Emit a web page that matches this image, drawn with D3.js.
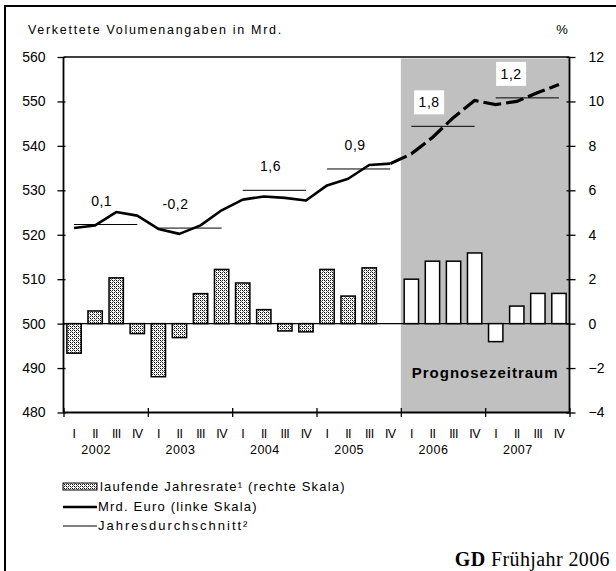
<!DOCTYPE html>
<html>
<head>
<meta charset="utf-8">
<script src="https://cdn.jsdelivr.net/npm/d3@7"></script>
<style>
  body { margin: 0; background: #fff; }
  text { font-family: "Liberation Sans", Arial, sans-serif; }
</style>
</head>
<body>
<svg width="616" height="571"></svg>
<script>
// data
var years = ["2002", "2003", "2004", "2005", "2006", "2007"];
var quarters = ["I", "II", "III", "IV"];
// laufende Jahresrate in % (right scale), null = no bar
var rate = [-1.33, 0.57, 2.06, -0.45,  -2.39, -0.63, 1.35, 2.44,
            1.83, 0.63, -0.33, -0.37,   2.44, 1.24, 2.51, null,
            2.0, 2.81, 2.81, 3.18,      -0.81, 0.79, 1.36, 1.36];
// Mrd. Euro (left scale)
var mrd = [521.5, 522.1, 525.1, 524.3,  521.3, 520.2, 522.1, 525.5,
           527.9, 528.6, 528.3, 527.7,  531.1, 532.6, 535.7, 536.0,
           538.2, 541.9, 546.4, 550.2,  549.3, 550.0, 552.0, 553.8];
// Jahresdurchschnitt (left scale) and its growth labels
var avg = [522.3, 521.5, 530.0, 534.8, 544.4, 550.8];
var avgLabel = ["0,1", "-0,2", "1,6", "0,9", "1,8", "1,2"];
var avgLabelQ = [1.81, 5.31, 9.82, 13.83, 17.34, 21.23]; // label centre in quarter units
var forecastFrom = 16; // first forecast quarter (2006 I)
var leftTicks = [480, 490, 500, 510, 520, 530, 540, 550, 560];
var rightTicks = [-4, -2, 0, 2, 4, 6, 8, 10, 12];

var svg = d3.select("svg");
var pLeft = 63.5, pRight = 569.5, pTop = 57, pBottom = 412.5;

var qIdx = d3.range(rate.length);
var xBand = d3.scaleBand().domain(qIdx).range([pLeft, pRight]).paddingInner(0.32).paddingOuter(0.16);
var xq = d3.scaleLinear().domain([0, 24]).range([pLeft, pRight]);
var yL = d3.scaleLinear().domain([480, 560]).range([pBottom, pTop]);
var yR = d3.scaleLinear().domain([-4, 12]).range([pBottom, pTop]);

// dotted pattern for the historic bars
var defs = svg.append("defs");
var pat = defs.append("pattern").attr("id", "dots")
  .attr("patternUnits", "userSpaceOnUse").attr("width", 4).attr("height", 4);
pat.append("rect").attr("width", 4).attr("height", 4).attr("fill", "#fff");
[[0, 0, "#000"], [2, 0, "#222"], [0, 2, "#222"], [2, 2, "#000"], [1, 1, "#777"], [3, 3, "#777"]]
  .forEach(function (p) {
    pat.append("rect").attr("x", p[0]).attr("y", p[1]).attr("width", 1).attr("height", 1).attr("fill", p[2]);
  });

// outer frame
svg.append("rect").attr("x", 5).attr("y", 6).attr("width", 640).attr("height", 600)
  .attr("fill", "none").attr("stroke", "#000").attr("stroke-width", 2);

// forecast shading
svg.append("rect")
  .attr("x", xq(forecastFrom)).attr("y", pTop + 1.5)
  .attr("width", xq(24) - xq(forecastFrom)).attr("height", pBottom - pTop - 1.5)
  .attr("fill", "#c0c0c0");

// titles
svg.append("text").attr("x", 28).attr("y", 34).style("font-size", "12.5px")
  .style("letter-spacing", "1.7px").text("Verkettete Volumenangaben in Mrd.");
svg.append("text").attr("x", 562).attr("y", 34).attr("text-anchor", "middle")
  .style("font-size", "13px").text("%");

// zero line of right scale
svg.append("line").attr("x1", pLeft).attr("x2", pRight).attr("y1", yR(0)).attr("y2", yR(0))
  .attr("stroke", "#000").attr("stroke-width", 1.2);

// bars
svg.append("g").selectAll("rect")
  .data(qIdx.filter(function (i) { return rate[i] !== null; }))
  .enter().append("rect")
  .attr("x", function (i) { return xBand(i); })
  .attr("width", xBand.bandwidth())
  .attr("y", function (i) { return yR(Math.max(0, rate[i])); })
  .attr("height", function (i) { return Math.abs(yR(rate[i]) - yR(0)); })
  .attr("fill", function (i) { return i >= forecastFrom ? "#fff" : "url(#dots)"; })
  .attr("stroke", "#000").attr("stroke-width", 1.5);

svg.append("text").attr("x", xq(20)).attr("y", yR(-2) + 10).attr("text-anchor", "middle")
  .style("font-size", "15px").style("font-weight", "bold").style("letter-spacing", "1px")
  .text("Prognosezeitraum");

// annual averages
var avgG = svg.append("g");
avg.forEach(function (v, k) {
  avgG.append("line")
    .attr("x1", xq(k * 4 + 0.5)).attr("x2", xq(k * 4 + 3.5))
    .attr("y1", yL(v)).attr("y2", yL(v))
    .attr("stroke", "#000").attr("stroke-width", 1);
  var boxed = k * 4 >= forecastFrom;
  var ly = yL(v) - 24;
  if (boxed) {
    avgG.append("rect").attr("x", xq(avgLabelQ[k]) - 15).attr("y", ly - 12)
      .attr("width", 30).attr("height", 24).attr("fill", "#fff");
  }
  avgG.append("text").attr("x", xq(avgLabelQ[k])).attr("y", ly + 5)
    .attr("text-anchor", "middle").style("font-size", "14px").style("letter-spacing", "0.5px")
    .text(avgLabel[k]);
});

// Mrd. Euro line
var line = d3.line()
  .x(function (i) { return xBand(i) + xBand.bandwidth() / 2; })
  .y(function (i) { return yL(mrd[i]); });

svg.append("path").datum(qIdx.slice(0, forecastFrom))
  .attr("d", line).attr("fill", "none").attr("stroke", "#000")
  .attr("stroke-width", 2.6).attr("stroke-linejoin", "round");
svg.append("path").datum(qIdx.slice(forecastFrom - 1))
  .attr("d", line).attr("fill", "none").attr("stroke", "#000")
  .attr("stroke-width", 3.2).attr("stroke-dasharray", "18,5");

// top border of plot
svg.append("line").attr("x1", pLeft).attr("x2", pRight).attr("y1", pTop).attr("y2", pTop)
  .attr("stroke", "#000").attr("stroke-width", 1.5);

// axes
var gl = svg.append("g").attr("transform", "translate(" + pLeft + ",0)")
  .call(d3.axisLeft(yL).tickValues(leftTicks).tickSize(6).tickPadding(12));
gl.selectAll(".tick line").attr("x1", 2);
var gr = svg.append("g").attr("transform", "translate(" + pRight + ",0)")
  .call(d3.axisRight(yR).tickValues(rightTicks).tickSize(6).tickPadding(13));
gr.selectAll(".tick line").attr("x1", -3);
var gb = svg.append("g").attr("transform", "translate(0," + pBottom + ")")
  .call(d3.axisBottom(xq).tickValues([0, 4, 8, 12, 16, 20, 24]).tickSize(4.5).tickFormat(""));
gb.selectAll(".tick line").attr("y1", -4.5);

[gl, gr, gb].forEach(function (g) {
  g.select(".domain").attr("stroke", "#000").attr("stroke-width", 1.8);
  g.selectAll(".tick line").attr("stroke", "#000").attr("stroke-width", 1.3);
  g.selectAll(".tick text").style("font-size", "14px").attr("fill", "#000")
    .style("font-family", "'Liberation Sans', Arial, sans-serif");
});
gl.select(".domain").attr("d", "M0," + pTop + "V" + pBottom);
gr.select(".domain").attr("d", "M0," + pTop + "V" + pBottom);
gb.select(".domain").attr("d", "M" + pLeft + ",0H" + pRight);

// quarter and year labels
svg.append("g").selectAll("text").data(qIdx).enter().append("text")
  .attr("x", function (i) { return xBand(i) + xBand.bandwidth() / 2; })
  .attr("y", 438).attr("text-anchor", "middle").style("font-size", "12.5px")
  .style("letter-spacing", "-0.6px")
  .text(function (i) { return quarters[i % 4]; });
svg.append("g").selectAll("text").data(years).enter().append("text")
  .attr("x", function (d, k) { return xq(k * 4 + 1.55); })
  .attr("y", 454).attr("text-anchor", "middle").style("font-size", "12.5px")
  .style("letter-spacing", "0.5px")
  .text(function (d) { return d; });

// legend
var lg = svg.append("g");
lg.append("rect").attr("x", 63).attr("y", 483).attr("width", 34).attr("height", 7)
  .attr("fill", "url(#dots)").attr("stroke", "#000").attr("stroke-width", 1);
lg.append("text").attr("x", 100).attr("y", 491).style("font-size", "13px")
  .style("letter-spacing", "1.2px").text("laufende Jahresrate¹ (rechte Skala)");
lg.append("line").attr("x1", 63).attr("x2", 97).attr("y1", 507).attr("y2", 507)
  .attr("stroke", "#000").attr("stroke-width", 2.6);
lg.append("text").attr("x", 98).attr("y", 511).style("font-size", "13px")
  .style("letter-spacing", "1.2px").text("Mrd. Euro (linke Skala)");
lg.append("line").attr("x1", 63).attr("x2", 97).attr("y1", 526).attr("y2", 526)
  .attr("stroke", "#000").attr("stroke-width", 1);
lg.append("text").attr("x", 98).attr("y", 530).style("font-size", "13px")
  .style("letter-spacing", "2px").text("Jahresdurchschnitt²");

// source
var src = svg.append("text").attr("x", 610).attr("y", 566).attr("text-anchor", "end")
  .style("font-family", "'Liberation Serif', 'Times New Roman', serif").style("font-size", "20px")
  .style("letter-spacing", "0.4px");
src.append("tspan").style("font-weight", "bold").style("font-family", "'Liberation Serif', serif").text("GD");
src.append("tspan").style("font-family", "'Liberation Serif', serif").text(" Frühjahr 2006");
</script>
</body>
</html>
